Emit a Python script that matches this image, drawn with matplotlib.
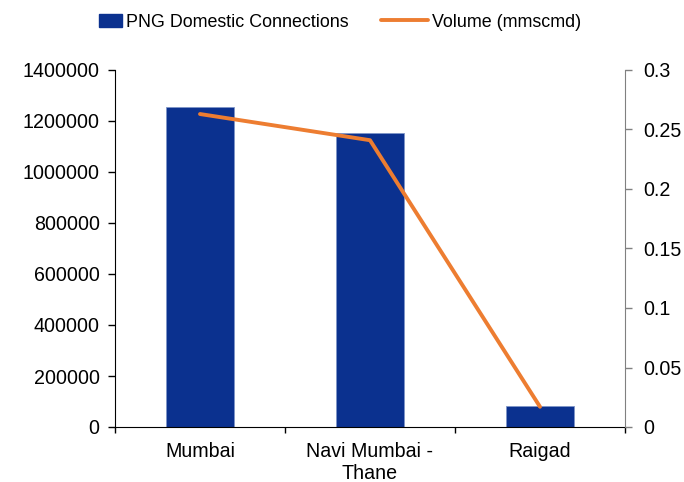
import matplotlib.pyplot as plt
import numpy as np
from matplotlib.ticker import FuncFormatter, MultipleLocator, FixedLocator
from matplotlib.patches import Rectangle
from matplotlib.legend_handler import HandlerPatch

plt.rcParams['font.family'] = ['Liberation Sans', 'DejaVu Sans']

regions = ['Mumbai', 'Navi Mumbai -\nThane', 'Raigad']
connections = [1256000, 1153000, 83000]
volume = [0.263, 0.241, 0.017]

bar_color = '#0B318F'
line_color = '#ED7D31'
tick_size = 14.1

fig = plt.figure(figsize=(6.84, 4.82), dpi=100)
ax = fig.add_axes([115 / 684, 1 - 427 / 482, 510 / 684, 357 / 482])
x = np.arange(len(regions))

bars = ax.bar(x, connections, width=0.4, color=bar_color,
              edgecolor='#7F95C8', linewidth=0.6, zorder=2)
ax.set_xlim(-0.5, len(regions) - 0.5)
ax.set_ylim(0, 1400000)
ax.yaxis.set_major_locator(MultipleLocator(200000))
ax.yaxis.set_major_formatter(FuncFormatter(lambda v, p: f'{int(v)}'))

# category labels at bar centres, tick marks between categories
ax.set_xticks(x)
ax.set_xticklabels(regions, linespacing=1.2)
ax.xaxis.set_minor_locator(FixedLocator(np.arange(-0.5, len(regions), 1.0)))
ax.tick_params(axis='x', which='major', length=0, pad=11)
ax.tick_params(axis='x', which='minor', length=4, width=1, direction='out')
ax.tick_params(axis='y', length=5, width=1, direction='out', pad=6)
ax.tick_params(labelsize=tick_size)

for s in ['top', 'right']:
    ax.spines[s].set_visible(False)

ax2 = ax.twinx()
line, = ax2.plot(x, volume, color=line_color, linewidth=2.8,
                 solid_capstyle='round', zorder=3)
ax2.set_ylim(0, 0.3)
ax2.yaxis.set_major_locator(MultipleLocator(0.05))
ax2.yaxis.set_major_formatter(FuncFormatter(lambda v, p: f'{round(v, 2):g}'))
ax2.tick_params(axis='y', length=5, width=1, direction='out',
                color='#808080', labelsize=tick_size, pad=8)
for s in ['top', 'left', 'bottom']:
    ax2.spines[s].set_visible(False)
ax2.spines['right'].set_color('#808080')


def small_box(legend, orig_handle, xdescent, ydescent, width, height, fontsize):
    w, h = 16, 9.5
    return Rectangle((width - w, (height - h) / 2), w, h)


proxy = Rectangle((0, 0), 1, 1, color=bar_color)
fig.legend([proxy, line], ['PNG Domestic Connections', 'Volume (mmscmd)'],
           loc='upper center', bbox_to_anchor=(0.480, 1.005), ncol=2,
           frameon=False, fontsize=12.9, handlelength=2.6,
           handletextpad=0.25, columnspacing=1.82,
           handler_map={Rectangle: HandlerPatch(patch_func=small_box)})

fig.savefig('out.png', dpi=100)
